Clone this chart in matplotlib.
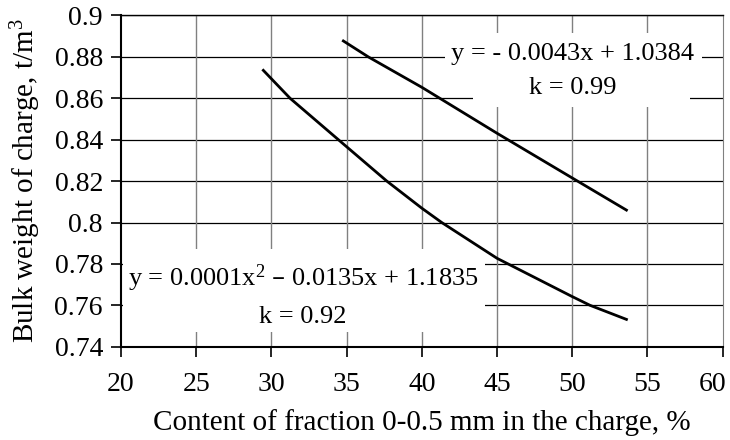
import matplotlib
matplotlib.use("Agg")
import matplotlib.pyplot as plt
import matplotlib.transforms as mtransforms
from matplotlib.patches import Polygon, Rectangle
from matplotlib.ticker import FuncFormatter

plt.rcParams['font.family'] = ['Liberation Serif', 'DejaVu Serif']
plt.rcParams['mathtext.default'] = 'regular'

# upper series (linear fit)
x_upper = [34.78, 36.44, 40.0, 45.0, 50.0, 53.6]
y_upper = [0.8877, 0.880, 0.8653, 0.8431, 0.8215, 0.806]

# lower series (quadratic fit)
x_lower = [29.46, 31.24, 34.45, 37.67, 40.0, 41.32, 45.0, 50.0, 51.18, 53.6]
y_lower = [0.8735, 0.860, 0.840, 0.820, 0.8069, 0.800, 0.7827, 0.7642, 0.760, 0.7532]

xticks = [20, 25, 30, 35, 40, 45, 50, 55, 60]
yticks = [0.74, 0.76, 0.78, 0.8, 0.82, 0.84, 0.86, 0.88, 0.9]

eq_upper = ["y = - 0.0043x + 1.0384", "k = 0.99"]
eq_lower = ["y = 0.0001x$^2$ \u2013 0.0135x + 1.1835", "k = 0.92"]

fig = plt.figure(figsize=(7.3, 4.4), dpi=100)
ax = fig.add_axes([0.1658, 0.212, 0.8242, 0.7528])

ax.set_xlim(20, 60)
ax.set_ylim(0.74, 0.9)
ax.set_xticks(xticks)
ax.set_yticks(yticks)
ax.yaxis.set_major_formatter(FuncFormatter(lambda v, p: '%g' % round(v, 2)))

# grid: horizontal black, vertical gray
for y in yticks[1:]:
    ax.axhline(y, color='black', lw=0.9, zorder=1)
for x in xticks[1:-1]:
    ax.axvline(x, color='#808080', lw=1.0, zorder=1)

# white label backgrounds
ax.add_patch(Polygon([(41.54, 0.8915), (58.63, 0.8915), (58.63, 0.8703),
                      (57.83, 0.8703), (57.83, 0.8558), (43.40, 0.8558),
                      (43.40, 0.8703), (41.54, 0.8703)],
                     closed=True, facecolor='white', edgecolor='none', zorder=2))
ax.add_patch(Rectangle((20.15, 0.7471), 24.05, 0.0401,
                       facecolor='white', edgecolor='none', zorder=2))

ax.plot(x_upper, y_upper, color='black', lw=2.0, zorder=3)
ax.plot(x_lower, y_lower, color='black', lw=2.0, zorder=3)

ax.text(50.0, 0.8785, eq_upper[0], ha='center', va='baseline', fontsize=19, zorder=4)
ax.text(50.0, 0.8621, eq_upper[1], ha='center', va='baseline', fontsize=19, zorder=4)
ax.text(32.1, 0.7693, eq_lower[0], ha='center', va='baseline', fontsize=19, zorder=4)
ax.text(32.1, 0.7516, eq_lower[1], ha='center', va='baseline', fontsize=19, zorder=4)

for s in ['left', 'bottom']:
    ax.spines[s].set_linewidth(1.5)
ax.spines['top'].set_linewidth(1.0)
ax.spines['right'].set_color('#808080')

ax.tick_params(axis='both', direction='out', length=7, width=1.2,
               labelsize=20, colors='black')
ax.tick_params(axis='x', pad=11)
ax.tick_params(axis='y', pad=6)

# last x tick label sits a bit left so it stays inside the figure
fig.canvas.draw()
lab = ax.get_xticklabels()[-1]
lab.set_transform(lab.get_transform() + mtransforms.ScaledTranslation(-10 / 100, 0, fig.dpi_scale_trans))

ax.set_xlabel("Content of fraction 0-0.5 mm in the charge, %", fontsize=21, labelpad=9)
ax.set_ylabel("Bulk weight of charge, t/m$^3$", fontsize=21, labelpad=8)

fig.savefig("out.png", dpi=100)
